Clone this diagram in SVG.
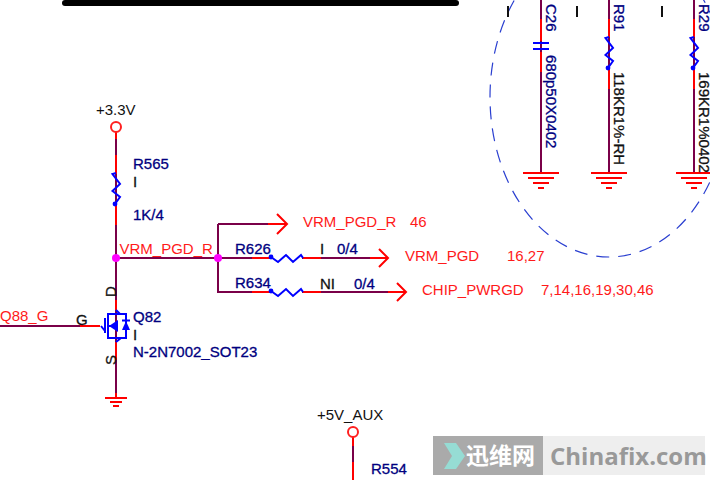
<svg xmlns="http://www.w3.org/2000/svg" width="710" height="480" viewBox="0 0 710 480">
<style>
text{font-family:"Liberation Sans",Arial,sans-serif;font-size:15px;stroke-width:.3}
.n{fill:#000080;stroke:#000080}.r{fill:#ff1a1a;font-size:15px}.k{fill:#111;stroke:#111}
.w{fill:none;stroke:#7a0048;stroke-width:2}
.e{fill:none;stroke:#ff0000;stroke-width:2}
.b{fill:none;stroke:#0000ff;stroke-width:2}
.f{fill:#0000ff}
.d{fill:#ff00ff}
.g{fill:none;stroke:#ff0000;stroke-width:2}
</style>
<defs>
<g id="gnd"><path class="g" d="M-18 0H18M-13 5H13M-8 10H8M-3 15H3"/></g>
<g id="rv"><path class="b" d="M0 0L-3.500 1L4 11L-3.500 18L4 24L-1 31" stroke-width="1.800"/><circle cx="-1" cy="31" r="2.400" class="f"/></g>
<g id="rh"><circle cx="0" cy="0" r="2.400" class="f"/><path class="b" d="M0 0L7 5L15 -2L22 5L30 -2L32 1" stroke-width="1.800"/></g>
</defs>
<rect x="62" y="0" width="397" height="6" rx="3" fill="#000"/>
<g id="connectors">
<path class="w" d="M116 132V258M116 258V398M0 326H80M116 258H218M218 224V292H271M218 224H270M218 258H271M302 258H370M302 292H390"/>
<path class="e" d="M116 132V139M116 155V174M116 205V225M116 300V310M116 342V360M116 393V398M80 326H100M252 258H271M303 258H321M252 292H271M303 292H321M268 224H286M370 258H388M388 292H406"/>
<path class="e" d="M277 214L287 224L277 234M379 249L388 258L379 267M397 283L406 292L397 301"/>
<path class="w" d="M541 0V173M609 0V173M694 0V173M353 437V480"/>
<path class="e" d="M541 19V41M541 52V72M609 19V37M609 68V89M694 19V37M694 68V89M353 437V446M353 462V480"/>
<ellipse cx="609" cy="97" rx="119" ry="160" fill="none" stroke="#2a3fd0" stroke-width="1.200" stroke-dasharray="13 9"/>
</g>
<g id="R565"><use href="#rv" x="116" y="173"/><text class="n" x="133" y="169">R565</text><text class="k" x="133" y="187">I</text><text class="n" x="133" y="220">1K/4</text></g>
<g id="V33"><circle cx="116" cy="127" r="5" fill="#fff" stroke="#ff2020" stroke-width="2"/><text class="k" x="96" y="115" style="stroke-width:0">+3.3V</text></g>
<g id="J1"><circle class="d" cx="116" cy="258" r="4"/><text class="r" x="119.500" y="254">VRM_PGD_R</text></g>
<g id="J2"><circle class="d" cx="218" cy="258" r="4"/></g>
<g id="R626"><use href="#rh" x="271" y="257"/><text class="n" x="235" y="254">R626</text><text class="k" x="320" y="254">I</text><text class="n" x="337" y="254">0/4</text></g>
<g id="R634"><use href="#rh" x="271" y="291"/><text class="n" x="235" y="288">R634</text><text class="k" x="320" y="289">NI</text><text class="n" x="354" y="289">0/4</text></g>
<g id="L1"><text class="r" x="303" y="227">VRM_PGD_R</text><text class="r" x="410" y="227">46</text></g>
<g id="L2"><text class="r" x="405" y="261">VRM_PGD</text><text class="r" x="507" y="261">16,27</text></g>
<g id="L3"><text class="r" x="422" y="295">CHIP_PWRGD</text><text class="r" x="541" y="295">7,14,16,19,30,46</text></g>
<g id="Q82">
<path class="b" d="M101 326L105 331M105 318V333M108 313V339M108 314H126V338H108M108 326H114M116 310L120 314M116 342L121 338"/>
<path d="M109 326L118 320V332Z" class="f"/><path d="M122 330H130L126 321Z" class="f"/>
<path class="b" d="M122 320.500H130"/>
<text class="n" x="133" y="322">Q82</text><text class="k" x="133" y="340">I</text><text class="n" x="133" y="357">N-2N7002_SOT23</text>
<text class="k" x="76" y="325">G</text>
<text class="k" transform="translate(116 297) rotate(-90)">D</text>
<text class="k" transform="translate(116 365) rotate(-90)">S</text>
<text class="r" x="0" y="321">Q88_G</text>
</g>
<g id="GND1"><path class="g" d="M105 398H127M110 402H122M113 406H119"/></g>
<g id="C26"><path class="b" d="M533 43H549" stroke-width="3.500"/><path class="b" d="M533 49H549"/><use href="#gnd" x="541" y="173"/>
<text class="n" transform="translate(546 4) rotate(90)">C26</text><text class="n" transform="translate(546 55) rotate(90)">680p50X0402</text><rect x="507" y="6" width="2" height="11" fill="#111"/></g>
<g id="R91"><use href="#rv" x="609" y="37"/><use href="#gnd" x="609" y="173"/>
<text class="n" transform="translate(614 4) rotate(90)">R91</text><text class="k" transform="translate(614 72) rotate(90)">118KR1%-RH</text><rect x="576" y="6" width="2" height="11" fill="#111"/></g>
<g id="R29"><use href="#rv" x="694" y="37"/><use href="#gnd" x="694" y="173"/>
<text class="n" transform="translate(699 4) rotate(90)">R29</text><text class="k" transform="translate(699 72) rotate(90)">169KR1%0402</text><rect x="661" y="6" width="2" height="11" fill="#111"/></g>
<g id="V5"><circle cx="353" cy="432" r="5" fill="#fff" stroke="#ff2020" stroke-width="2"/><text class="k" x="317" y="420" style="stroke-width:0">+5V_AUX</text><text class="n" x="371" y="474">R554</text></g>
<g id="watermark">
<rect x="433" y="436" width="110" height="39" fill="#aaaaaa"/><rect x="543" y="436" width="162" height="39" fill="#eeeeee"/>
<path d="M444 443H456L465 456L456 469H444L452 456Z" fill="#96dcd4"/>
<text x="466" y="464" fill="#fff" style="font-family:'Noto Sans CJK SC',sans-serif;font-size:23px;font-weight:700;stroke-width:0">迅维网</text>
<text x="550" y="465" fill="#999" style="font-family:'Open Sans',sans-serif;font-size:24px;font-weight:700;stroke-width:0">Chinafix.com</text>
</g>
</svg>
